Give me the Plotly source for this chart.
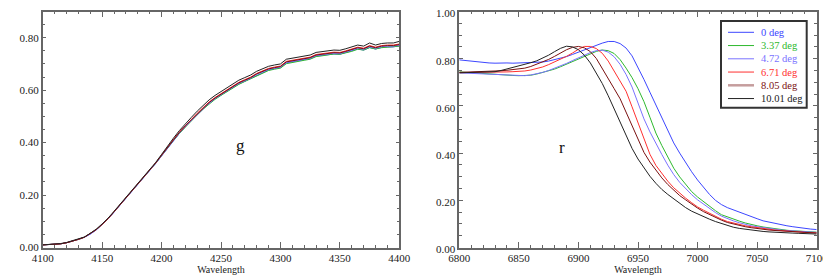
import plotly.graph_objects as go

# ---------------- data ----------------
names = ["0 deg", "3.37 deg", "4.72 deg", "6.71 deg", "8.05 deg", "10.01 deg"]
colors = ["#3c46ff", "#2eb82e", "#7a72ff", "#ff3030", "#7a1010", "#222222"]

g_wave = list(range(4100, 4401, 5))
r_wave = list(range(6800, 7101, 5))

g_0 = [.010,.011,.012,.014,.018,.024,.031,.039,.051,.067,
       .087,.109,.135,.161,.187,.214,.242,.267,.292,.320,
       .349,.379,.408,.435,.461,.483,.507,.530,.550,.567,
       .582,.597,.610,.624,.634,.645,.658,.668,.677,.682,
       .686,.704,.708,.712,.716,.720,.730,.732,.736,.738,
       .737,.743,.750,.757,.753,.763,.757,.763,.765,.765,
       .769]
g_337 = [.010,.011,.012,.014,.018,.024,.031,.039,.052,.068,
         .088,.110,.136,.162,.188,.215,.242,.267,.292,.321,
         .350,.380,.408,.435,.460,.482,.506,.528,.548,.565,
         .580,.595,.608,.622,.633,.643,.656,.666,.675,.680,
         .684,.701,.706,.710,.714,.718,.728,.731,.735,.738,
         .737,.742,.748,.756,.753,.762,.757,.762,.764,.765,
         .768]
g_472 = [.010,.011,.012,.014,.018,.024,.031,.039,.051,.067,
         .087,.109,.135,.161,.187,.214,.242,.267,.292,.321,
         .350,.381,.409,.437,.462,.484,.508,.531,.551,.568,
         .583,.598,.611,.626,.636,.646,.660,.670,.679,.684,
         .688,.706,.710,.714,.718,.722,.732,.734,.738,.741,
         .740,.746,.752,.760,.756,.766,.760,.766,.768,.768,
         .772]
g_671 = [.010,.011,.012,.014,.018,.024,.031,.039,.052,.068,
         .088,.110,.136,.162,.188,.215,.243,.268,.293,.322,
         .352,.383,.412,.440,.466,.488,.512,.535,.555,.572,
         .587,.602,.615,.630,.640,.650,.664,.674,.683,.688,
         .692,.710,.714,.718,.722,.726,.736,.738,.742,.745,
         .744,.750,.756,.764,.760,.770,.764,.770,.772,.772,
         .776]
g_805 = [.010,.011,.012,.014,.018,.024,.031,.039,.052,.068,
         .088,.110,.136,.162,.188,.215,.243,.268,.293,.322,
         .352,.382,.411,.439,.464,.486,.510,.533,.553,.570,
         .585,.600,.613,.628,.638,.648,.662,.672,.681,.686,
         .690,.708,.712,.716,.720,.724,.734,.736,.740,.743,
         .742,.748,.754,.762,.758,.768,.762,.768,.770,.770,
         .774]
g_1001 = [.010,.011,.012,.015,.019,.025,.032,.040,.054,.070,
          .090,.112,.138,.164,.190,.217,.245,.270,.295,.324,
          .355,.387,.417,.446,.473,.496,.520,.543,.563,.580,
          .595,.610,.623,.638,.648,.658,.672,.682,.691,.696,
          .700,.718,.722,.726,.730,.734,.744,.746,.750,.753,
          .752,.758,.764,.772,.768,.780,.772,.778,.780,.780,
          .786]

r_0 = [.795,.792,.789,.787,.784,.782,.781,.783,.782,.781,
       .782,.781,.782,.784,.786,.790,.796,.802,.809,.818,
       .828,.838,.848,.857,.866,.873,.873,.864,.845,.812,
       .763,.712,.658,.603,.548,.492,.443,.400,.360,.321,
       .286,.253,.225,.200,.182,.169,.159,.149,.140,.131,
       .122,.113,.107,.101,.096,.092,.088,.084,.081,.078,
       .076]
r_337 = [.744,.742,.740,.738,.736,.734,.733,.731,.730,.729,
         .728,.728,.730,.735,.741,.748,.756,.766,.777,.789,
         .800,.811,.822,.831,.837,.834,.822,.796,.760,.720,
         .673,.618,.552,.485,.432,.381,.336,.299,.266,.237,
         .214,.194,.175,.156,.139,.129,.122,.112,.104,.097,
         .092,.087,.083,.079,.076,.073,.071,.069,.067,.066,
         .065]
r_472 = [.740,.739,.737,.736,.734,.733,.732,.730,.729,.728,
         .727,.728,.731,.736,.742,.750,.759,.769,.780,.792,
         .804,.815,.826,.834,.836,.828,.808,.776,.733,.680,
         .615,.545,.490,.440,.394,.349,.309,.276,.248,.224,
         .202,.183,.166,.148,.133,.122,.113,.105,.098,.092,
         .088,.084,.080,.077,.074,.072,.070,.068,.066,.065,
         .064]
r_671 = [.741,.741,.742,.741,.742,.741,.742,.743,.744,.745,
         .746,.748,.752,.758,.765,.775,.786,.798,.810,.824,
         .840,.852,.852,.843,.823,.790,.748,.705,.662,.596,
         .530,.458,.395,.348,.312,.281,.253,.229,.209,.190,
         .172,.158,.145,.131,.120,.110,.103,.097,.092,.088,
         .084,.080,.077,.074,.072,.069,.067,.066,.064,.063,
         .062]
r_805 = [.742,.743,.742,.744,.743,.745,.747,.749,.751,.753,
         .756,.760,.767,.776,.786,.797,.810,.824,.838,.848,
         .852,.846,.830,.801,.760,.714,.673,.630,.575,.518,
         .458,.403,.362,.326,.295,.267,.243,.220,.202,.184,
         .167,.152,.139,.127,.116,.106,.099,.093,.088,.084,
         .080,.077,.074,.072,.070,.068,.066,.064,.063,.062,
         .061]
r_1001 = [.740,.741,.742,.743,.741,.742,.745,.750,.756,.762,
          .768,.775,.783,.791,.802,.815,.830,.844,.853,.850,
          .838,.815,.782,.740,.695,.643,.588,.533,.474,.420,
          .375,.336,.302,.272,.246,.225,.205,.186,.169,.154,
          .142,.131,.120,.110,.101,.093,.086,.081,.077,.073,
          .070,.068,.066,.064,.063,.062,.061,.060,.059,.058,
          .057]

g_series = [g_0, g_337, g_472, g_671, g_805, g_1001]
r_series = [r_0, r_337, r_472, r_671, r_805, r_1001]

g_xticks = [4100, 4150, 4200, 4250, 4300, 4350, 4400]
g_yticks = [0.0, 0.2, 0.4, 0.6, 0.8]
r_xticks = [6800, 6850, 6900, 6950, 7000, 7050, 7100]
r_yticks = [0.0, 0.2, 0.4, 0.6, 0.8, 1.0]

# ---------------- figure ----------------
# The page body has an 8px default margin, so the figure is drawn 8px smaller
# and all layout positions (given in window pixels) are shifted by that offset.
OFF = 8
WIN_W, WIN_H = 831, 280
W, H = WIN_W - OFF, WIN_H - OFF
FONT = "Liberation Serif, Times New Roman, serif"

def px(X):
    return (X - OFF) / W

def py(Y):
    return 1 - (Y - OFF) / H

fig = go.Figure()
for name, col, ys in zip(names, colors, g_series):
    fig.add_trace(go.Scatter(x=g_wave, y=ys, mode="lines", name=name,
                             line=dict(color=col, width=1), showlegend=False,
                             xaxis="x", yaxis="y"))
for name, col, ys in zip(names, colors, r_series):
    fig.add_trace(go.Scatter(x=r_wave, y=ys, mode="lines", name=name,
                             line=dict(color=col, width=1), showlegend=False,
                             xaxis="x2", yaxis="y2"))

ydom = [py(247.5), py(11.5)]

def xax(dom, rng, ticks, anchor):
    return dict(domain=dom, range=rng, tickvals=ticks, ticks="inside", ticklen=6,
                tickcolor="#666", tickwidth=1, showline=True, linecolor="#666",
                linewidth=1.5, mirror="ticks", showgrid=False, zeroline=False,
                anchor=anchor, automargin=False, ticklabeloverflow="allow",
                tickfont=dict(family=FONT, size=11, color="#222"),
                minor=dict(dtick=10, ticks="inside", ticklen=3, tickcolor="#666",
                           showgrid=False),
                title=dict(text="Wavelength", font=dict(family=FONT, size=10, color="#222"),
                           standoff=0))

def yax(rng, ticks, anchor, shift=0):
    return dict(domain=ydom, range=rng, tickvals=ticks, tickformat=".2f", ticks="inside",
                ticklen=4, tickcolor="#666", tickwidth=1, showline=True, linecolor="#666",
                linewidth=1.5, mirror="ticks", showgrid=False, zeroline=False,
                anchor=anchor, automargin=False, ticklabeloverflow="allow",
                ticklabelshift=shift,
                tickfont=dict(family=FONT, size=11, color="#222"),
                minor=dict(dtick=0.05, ticks="inside", ticklen=3, tickcolor="#666",
                           showgrid=False))

fig.update_layout(
    template="none",
    width=W, height=H,
    margin=dict(l=0, r=0, t=0, b=0, autoexpand=False),
    paper_bgcolor="white", plot_bgcolor="white",
    showlegend=False,
    font=dict(family=FONT, color="#222"),
    xaxis=xax([px(42.7), px(399.3)], [4100, 4400], g_xticks, "y"),
    yaxis=yax([0, 0.9], g_yticks, "x"),
    xaxis2=xax([px(459.3), px(816.7)], [6800, 7100], r_xticks, "y2"),
    yaxis2=yax([0, 1.0], r_yticks, "x2", shift=2),
)

# panel labels
fig.add_annotation(x=4266, y=0.39, xref="x", yref="y", text="g", showarrow=False,
                   font=dict(family=FONT, size=17, color="#111"))
fig.add_annotation(x=6886, y=0.425, xref="x2", yref="y2", text="r", showarrow=False,
                   font=dict(family=FONT, size=17, color="#111"))

# legend box (right panel)
lx0, lx1, ly0, ly1 = 721, 806.7, 21, 107.7
fig.add_shape(type="rect", xref="paper", yref="paper",
              x0=px(lx0), x1=px(lx1), y0=py(ly1), y1=py(ly0),
              line=dict(color="#333", width=2), fillcolor="white", layer="above")
for i, (name, col) in enumerate(zip(names, colors)):
    yy = py(32.3 + i * 13.25)
    lw = 1
    lc = col
    if name == "8.05 deg":
        lw, lc = 2.5, "rgba(140,60,60,0.5)"
    fig.add_shape(type="line", xref="paper", yref="paper",
                  x0=px(728), x1=px(754), y0=yy, y1=yy,
                  line=dict(color=lc, width=lw), layer="above")
    fig.add_annotation(x=px(758.5), y=yy, xref="paper", yref="paper", text=name,
                       showarrow=False, xanchor="left", yanchor="middle",
                       font=dict(family=FONT, size=10.5, color=col))

fig.write_html("out.html")
